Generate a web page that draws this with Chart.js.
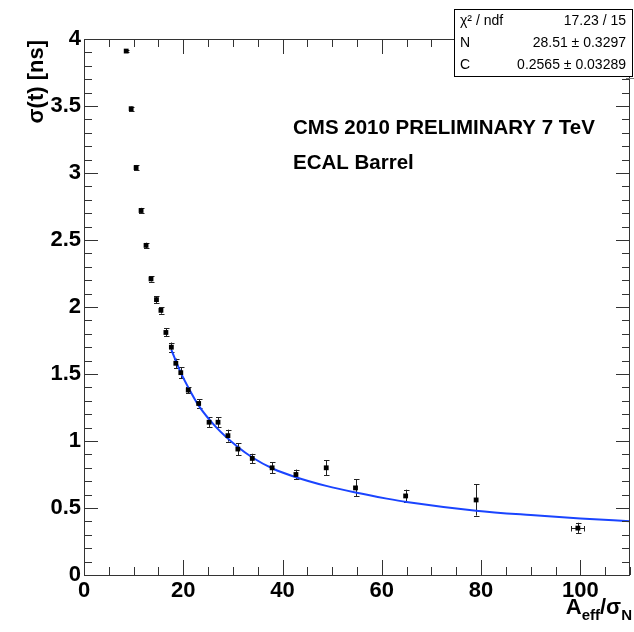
<!DOCTYPE html>
<html>
<head>
<meta charset="utf-8">
<script src="https://cdn.jsdelivr.net/npm/chart.js@4.4.1/dist/chart.umd.min.js"></script>
<style>
  html, body { margin: 0; padding: 0; background: #fff; }
  canvas { display: block; }
</style>
</head>
<body>
<canvas id="sigmaChart" width="634" height="632"></canvas>
<script>
// --- data ---
const aEffOverSigma = [8.5, 9.5, 10.5, 11.5, 12.5, 13.5, 14.6, 15.5, 16.5, 17.6, 18.5, 19.5, 21.0,
    23.1, 25.2, 27.0, 29.0, 31.0, 33.9, 37.9, 42.7, 48.8, 54.7, 64.8, 79.0, 99.5];
const sigmaT = [3.91, 3.48, 3.04, 2.72, 2.46, 2.21, 2.055, 1.975, 1.81, 1.70, 1.58, 1.51, 1.38,
    1.28, 1.14, 1.14, 1.04, 0.94, 0.87, 0.80, 0.75, 0.80, 0.65, 0.59, 0.56, 0.35];
const sigmaErr = [0.01, 0.015, 0.02, 0.02, 0.02, 0.02, 0.025, 0.025, 0.03, 0.035, 0.035, 0.04, 0.025,
    0.03, 0.037, 0.037, 0.045, 0.045, 0.035, 0.04, 0.037, 0.055, 0.063, 0.047, 0.117, 0.04];
const xErr = [0, 0, 0, 0, 0, 0, 0, 0, 0, 0, 0, 0, 0,
    0, 0, 0, 0, 0, 0, 0, 0, 0, 0, 0, 0, 1.3];

// fit curve (blue)
const fitX = [17.6, 19.5, 21, 23, 26.7, 31, 34, 38, 42.7, 48.8, 54.7, 61, 65, 79, 90, 100, 110];
const fitY = [1.68, 1.51, 1.40, 1.27, 1.10, 0.955, 0.875, 0.795, 0.73, 0.665, 0.615, 0.57, 0.545, 0.48, 0.447, 0.422, 0.402];

const statRows = [
    ["\u03c7\u00b2 / ndf", "17.23 / 15"],
    ["N", "28.51 \u00b1 0.3297"],
    ["C", "0.2565 \u00b1 0.03289"],
];

const FONT = '"Liberation Sans", Arial, Helvetica, sans-serif';

// --- error bars ---
const errorBars = {
    id: "errorBars",
    beforeDatasetsDraw(chart) {
        const { ctx, scales: { x, y } } = chart;
        ctx.save();
        ctx.strokeStyle = "#222";
        ctx.lineWidth = 1;
        aEffOverSigma.forEach((xv, i) => {
            const px = Math.round(x.getPixelForValue(xv)) + 0.5;
            const py = y.getPixelForValue(sigmaT[i]);
            const top = y.getPixelForValue(sigmaT[i] + sigmaErr[i]);
            const bot = y.getPixelForValue(sigmaT[i] - sigmaErr[i]);
            ctx.beginPath();
            ctx.moveTo(px, top); ctx.lineTo(px, bot);
            ctx.moveTo(px - 2.5, Math.round(top) + 0.5); ctx.lineTo(px + 3, Math.round(top) + 0.5);
            ctx.moveTo(px - 2.5, Math.round(bot) + 0.5); ctx.lineTo(px + 3, Math.round(bot) + 0.5);
            if (xErr[i] > 0) {
                const l = x.getPixelForValue(xv - xErr[i]);
                const r = x.getPixelForValue(xv + xErr[i]);
                const yy = Math.round(py) + 0.5;
                ctx.moveTo(l, yy); ctx.lineTo(r, yy);
                ctx.moveTo(Math.round(l) + 0.5, yy - 2.5); ctx.lineTo(Math.round(l) + 0.5, yy + 3);
                ctx.moveTo(Math.round(r) + 0.5, yy - 2.5); ctx.lineTo(Math.round(r) + 0.5, yy + 3);
            }
            ctx.stroke();
        });
        ctx.restore();
    },
};

// --- ROOT-style frame with inward ticks, titles, stats box ---
const rootFrame = {
    id: "rootFrame",
    afterDraw(chart) {
        const { ctx, chartArea: a, scales: { x, y } } = chart;
        ctx.save();
        ctx.strokeStyle = "#333";
        ctx.lineWidth = 1;
        ctx.strokeRect(a.left + 0.5, a.top + 0.5, a.right - a.left - 1, a.bottom - a.top);

        ctx.beginPath();
        x.ticks.forEach(t => {
            const px = Math.round(x.getPixelForValue(t.value)) + 0.5;
            const len = (Math.round(t.value) % 20 === 0) ? 15 : 8;
            ctx.moveTo(px, a.bottom); ctx.lineTo(px, a.bottom - len);
            ctx.moveTo(px, a.top); ctx.lineTo(px, a.top + len);
        });
        y.ticks.forEach(t => {
            const py = Math.round(y.getPixelForValue(t.value)) + 0.5;
            const major = Math.abs(t.value * 2 - Math.round(t.value * 2)) < 1e-6;
            const len = major ? 14 : 8;
            ctx.moveTo(a.left, py); ctx.lineTo(a.left + len, py);
            ctx.moveTo(a.right, py); ctx.lineTo(a.right - len, py);
        });
        ctx.stroke();

        // labels inside the pad
        ctx.fillStyle = "#000";
        ctx.textBaseline = "middle";
        ctx.textAlign = "left";
        ctx.font = "bold 20.5px " + FONT;
        ctx.fillText("CMS 2010 PRELIMINARY 7 TeV", 293, 128);
        ctx.fillText("ECAL Barrel", 293, 163);

        // y title
        ctx.save();
        ctx.translate(37, 40);
        ctx.rotate(-Math.PI / 2);
        ctx.textAlign = "right";
        ctx.font = "bold 22px " + FONT;
        ctx.fillText("\u03c3(t) [ns]", 0, 0);
        ctx.restore();

        // x title: A_eff / sigma_N, right aligned
        const big = "bold 22px " + FONT, small = "bold 15px " + FONT;
        const parts = [["A", big, 0], ["eff", small, 6], ["/\u03c3", big, 0], ["N", small, 6]];
        let w = 0;
        parts.forEach(p => { ctx.font = p[1]; w += ctx.measureText(p[0]).width; });
        let cx = 632 - w;
        ctx.textAlign = "left";
        ctx.textBaseline = "alphabetic";
        parts.forEach(p => {
            ctx.font = p[1];
            ctx.fillText(p[0], cx, 614 + p[2]);
            cx += ctx.measureText(p[0]).width;
        });

        // stats box
        ctx.fillStyle = "#fff";
        ctx.fillRect(454, 9, 179, 67);
        ctx.strokeStyle = "#000";
        ctx.strokeRect(454.5, 9.5, 178, 67);
        ctx.beginPath();
        ctx.moveTo(626, 78.5); ctx.lineTo(634, 78.5);
        ctx.strokeStyle = "#777";
        ctx.stroke();
        ctx.fillStyle = "#000";
        ctx.font = "14px " + FONT;
        ctx.textBaseline = "middle";
        statRows.forEach((r, i) => {
            const ry = 21.5 + i * 21.7;
            ctx.textAlign = "left";
            ctx.fillText(r[0], 460, ry);
            ctx.textAlign = "right";
            ctx.fillText(r[1], 626, ry);
        });
        ctx.restore();
    },
};

new Chart(document.getElementById("sigmaChart"), {
    type: "scatter",
    data: {
        datasets: [
            {
                label: "data",
                data: aEffOverSigma.map((v, i) => ({ x: v, y: sigmaT[i] })),
                pointStyle: "rect",
                pointRadius: 3.4,
                backgroundColor: "#000",
                borderColor: "#000",
                borderWidth: 0,
                showLine: false,
            },
            {
                label: "fit",
                data: fitX.map((v, i) => ({ x: v, y: fitY[i] })),
                showLine: true,
                pointRadius: 0,
                borderColor: "#1a44ff",
                borderWidth: 2,
                cubicInterpolationMode: "monotone",
            },
        ],
    },
    options: {
        responsive: false,
        animation: false,
        events: [],
        layout: { padding: { top: 39, right: 3, left: 0, bottom: 0 } },
        plugins: { legend: { display: false }, tooltip: { enabled: false } },
        scales: {
            x: {
                type: "linear",
                min: 0, max: 110,
                grid: { display: false, drawTicks: false },
                border: { display: false },
                ticks: {
                    stepSize: 5,
                    autoSkip: false,
                    maxRotation: 0,
                    padding: 3,
                    color: "#000",
                    font: { family: FONT, size: 22, weight: "bold" },
                    callback: v => (Math.round(v) % 20 === 0 ? String(v) : ""),
                },
                afterFit: s => { s.height = 57; },
            },
            y: {
                type: "linear",
                min: 0, max: 4,
                grid: { display: false, drawTicks: false },
                border: { display: false },
                ticks: {
                    stepSize: 0.1,
                    autoSkip: false,
                    padding: 3,
                    color: "#000",
                    font: { family: FONT, size: 22, weight: "bold" },
                    callback: v => (Math.abs(v * 2 - Math.round(v * 2)) < 1e-6 ? String(Math.round(v * 10) / 10) : ""),
                },
                afterFit: s => { s.width = 84; },
            },
        },
    },
    plugins: [errorBars, rootFrame],
});
</script>
</body>
</html>
